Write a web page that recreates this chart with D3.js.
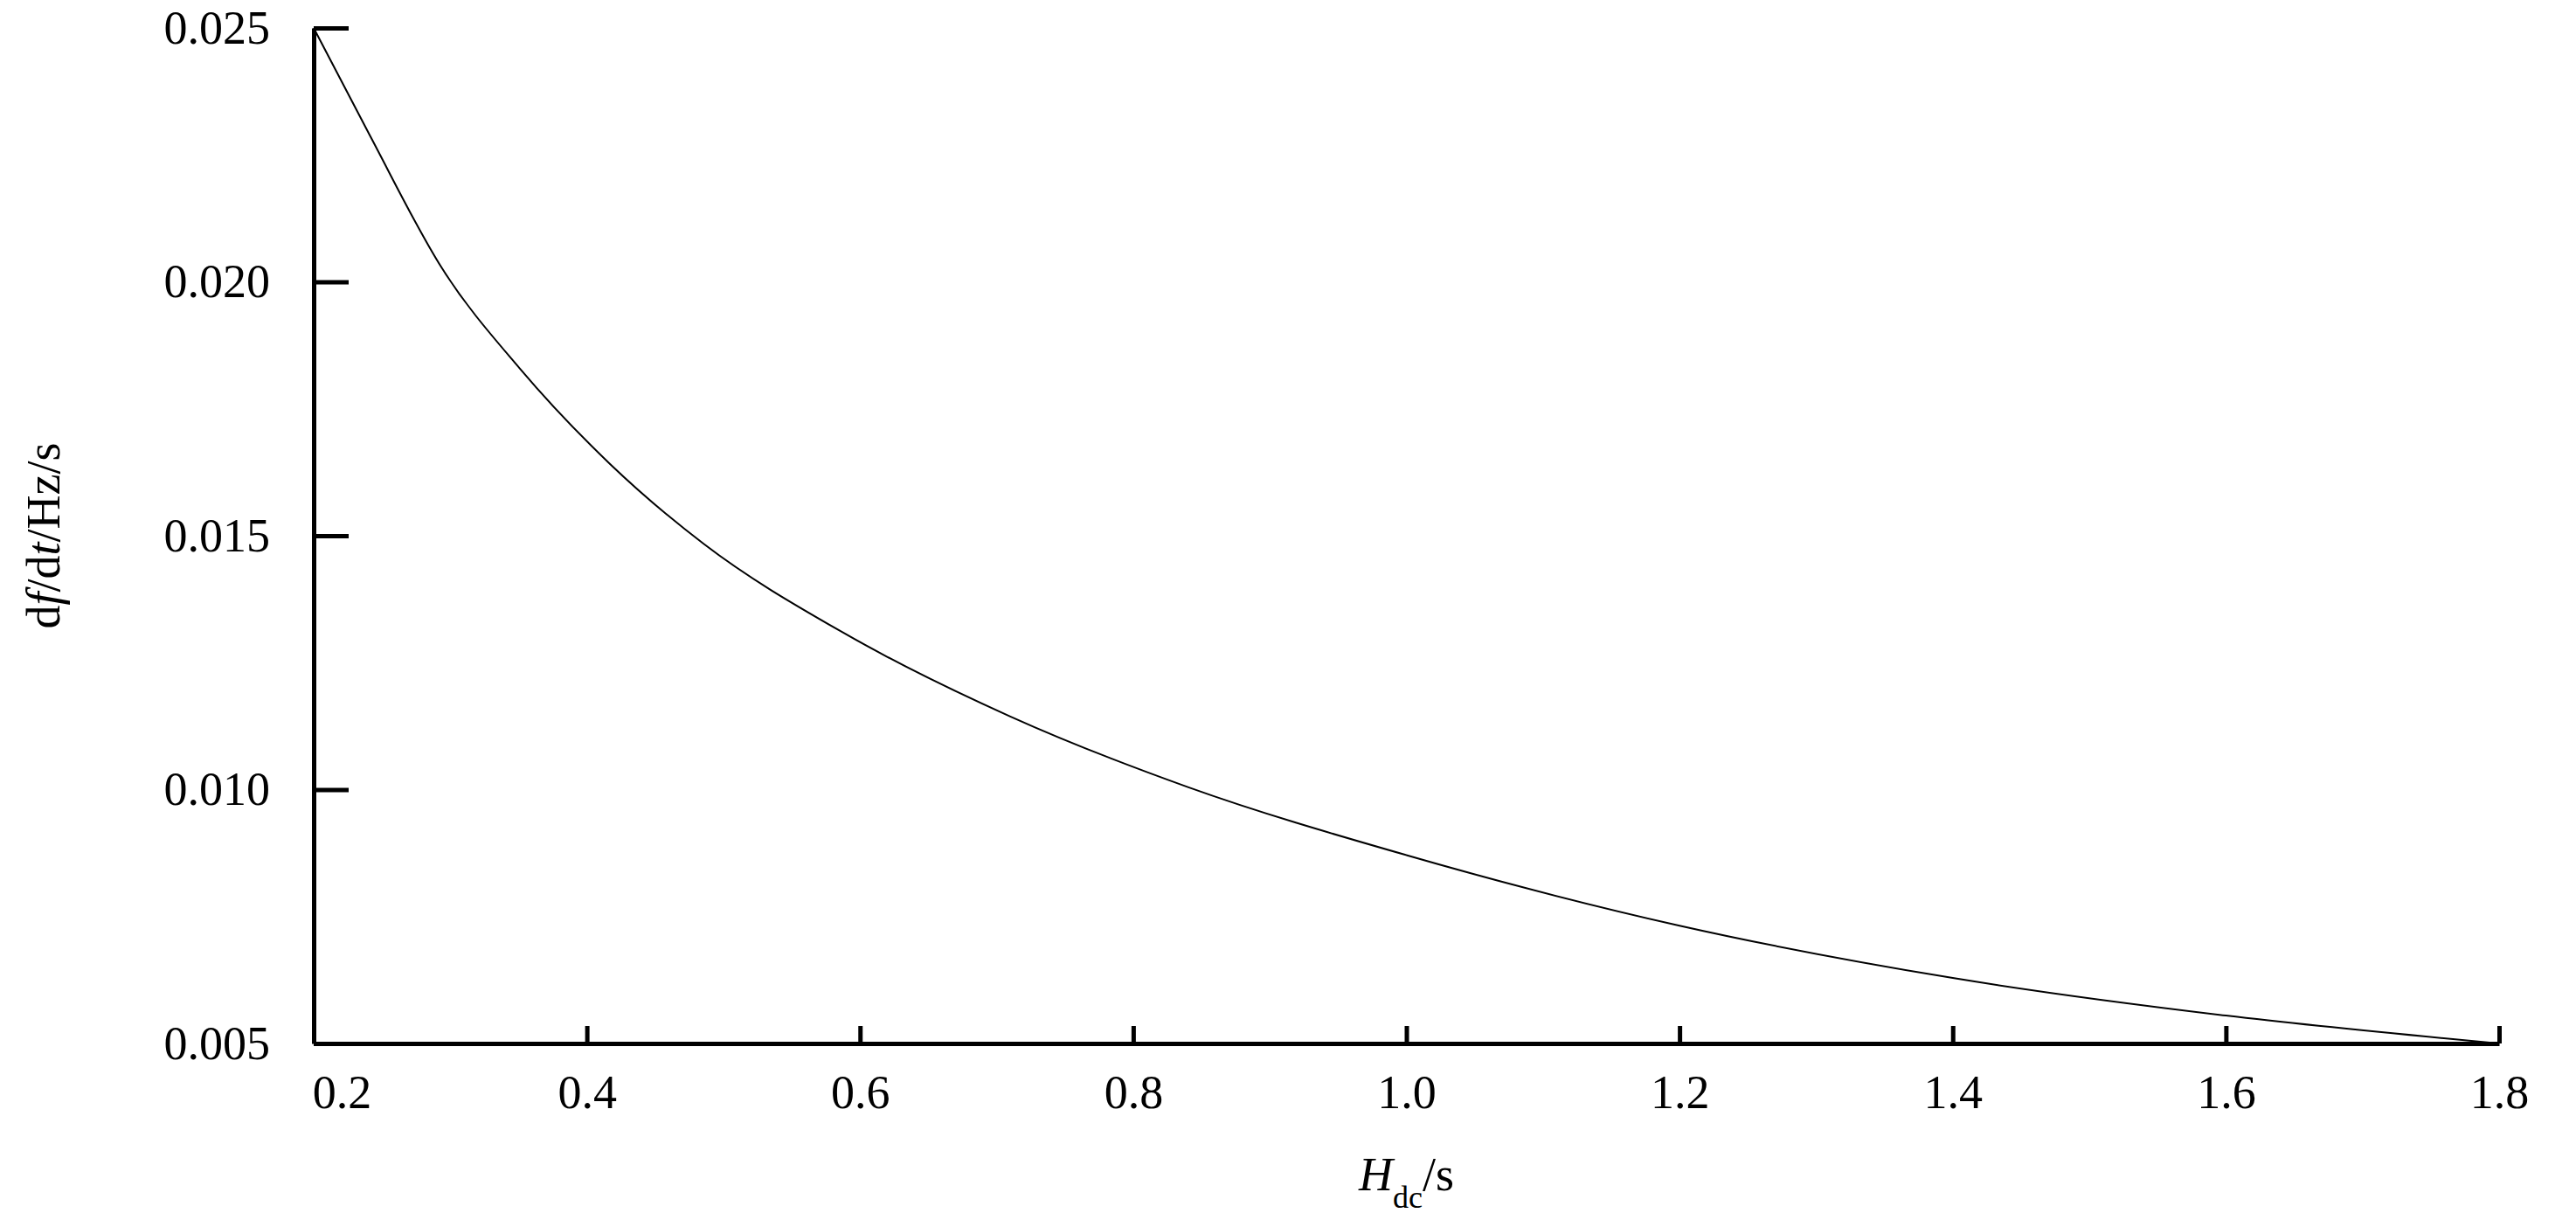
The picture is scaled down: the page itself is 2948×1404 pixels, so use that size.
<!DOCTYPE html>
<html><head><meta charset="utf-8">
<script src="https://cdn.jsdelivr.net/npm/d3@7"></script>
<style>body{margin:0;background:#fff}svg{display:block}text{font-family:"Liberation Serif","Times New Roman",serif;fill:#000}</style>
</head><body>
<script>
const hdc = [0.2,0.2408,0.2939,0.351,0.4163,0.4855,0.5877,0.71,0.84,1.0,1.2,1.4,1.6,1.8];
const dfdt = [0.025,0.0229,0.02027,0.01829,0.01643,0.01484,0.01309,0.01144,0.01005,0.00871,0.00732,0.00629,0.00555,0.005];
const xTicks = [0.2,0.4,0.6,0.8,1.0,1.2,1.4,1.6,1.8];
const yTicks = [0.005,0.010,0.015,0.020,0.025];

const W=2948,H=1404, L=359,R=2860,T=32,B=1194;
const svg=d3.select("body").append("svg").attr("width",W).attr("height",H);
const x=d3.scaleLinear().domain([0.2,1.8]).range([L,R]);
const y=d3.scaleLinear().domain([0.005,0.025]).range([B,T]);

const gx=svg.append("g").attr("transform",`translate(0,${B})`)
 .call(d3.axisTop(x).tickValues(xTicks).tickFormat(d3.format(".1f")).tickSizeInner(20).tickSizeOuter(0));
gx.selectAll(".tick text").attr("y",36).attr("dy","0.71em").style("font-size","54px")
 .attr("dx",(d,i)=>i===0?32:0);
const gy=svg.append("g").attr("transform",`translate(${L},0)`)
 .call(d3.axisRight(y).tickValues(yTicks).tickFormat(d3.format(".3f")).tickSizeInner(40).tickSizeOuter(0));
gy.selectAll(".tick text").attr("x",-50).attr("text-anchor","end").style("font-size","54px");
svg.selectAll(".domain,.tick line").attr("stroke","#000").attr("stroke-width",5);

svg.append("path").datum(hdc.map((h,i)=>[h,dfdt[i]]))
 .attr("fill","none").attr("stroke","#000").attr("stroke-width",2)
 .attr("d",d3.line().x(d=>x(d[0])).y(d=>y(d[1])).curve(d3.curveMonotoneX));

const xl=svg.append("text").attr("x",(L+R)/2).attr("y",1362).attr("text-anchor","middle").style("font-size","54px");
xl.append("tspan").attr("font-style","italic").text("H");
xl.append("tspan").attr("baseline-shift","sub").style("font-size","36px").text("dc");
xl.append("tspan").text("/s");
const yl=svg.append("text").attr("transform",`translate(68,${(T+B)/2}) rotate(-90)`).attr("text-anchor","middle").style("font-size","54px");
yl.append("tspan").text("d");
yl.append("tspan").attr("font-style","italic").text("f");
yl.append("tspan").text("/d");
yl.append("tspan").attr("font-style","italic").text("t");
yl.append("tspan").text("/Hz/s");
</script>
</body></html>
